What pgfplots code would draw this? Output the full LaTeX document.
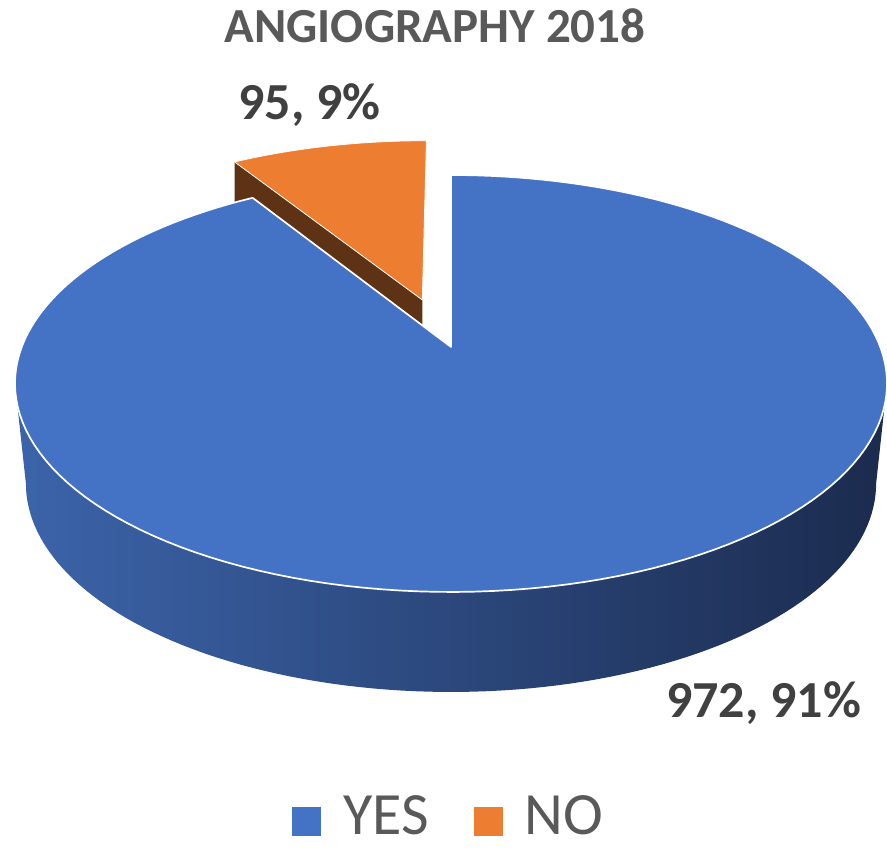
\documentclass[border=0pt]{standalone}
\usepackage{pgfplots}
\pgfplotsset{compat=1.18}
\usepackage{pgfplotstable}
\usepackage{fontspec}
\setmainfont{Carlito}
\definecolor{yesblue}{HTML}{4472C4}
\definecolor{noorange}{HTML}{ED7D31}
\definecolor{nobrown}{HTML}{5E3214}
\definecolor{sideL}{HTML}{3C64AA}
\definecolor{sideM}{HTML}{213762}
\definecolor{sideR}{HTML}{1B2B4E}
\definecolor{labelgray}{HTML}{404040}
\definecolor{titlegray}{HTML}{595959}

\pgfplotstableread{
label value
YES 972
NO 95
}\piedata

\begin{document}
\begin{tikzpicture}[
 declare function={
  PX(\t)=451+429.3*cos(\t)/(1+0.175*sin(\t));
  PY(\t)=505+202.1*sin(\t)/(1+0.175*sin(\t));
  BX(\t)=451+0.975*429.3*cos(\t)/(1+0.175*sin(\t));
  BY(\t)=405+202.1*sin(\t)/(1+0.175*sin(\t));
  QX(\u,\v)=451+429.3*\u/(1+0.175*\v);
  QY(\u,\v)=505+202.1*\v/(1+0.175*\v);
 }]
\pgfplotstablegetelem{0}{value}\of\piedata \let\vyes\pgfplotsretval
\pgfplotstablegetelem{1}{value}\of\piedata \let\vno\pgfplotsretval
\pgfmathsetmacro\fno{\vno/(\vyes+\vno)}
\pgfmathsetmacro\ano{360*\fno}
\pgfmathsetmacro\aend{90+\ano}
\pgfmathsetmacro\abis{90+\ano/2}
\pgfmathsetmacro\ex{0.2526*cos(\abis)}
\pgfmathsetmacro\ey{0.2526*sin(\abis)}
\pgfmathsetmacro\cx{cos(\aend)+\ex}
\pgfmathsetmacro\cy{sin(\aend)+\ey}
\useasboundingbox (0,0) rectangle (443.5pt,426pt);
\begin{axis}[at={(0,0)}, anchor=south west, scale only axis,
  width=443.5pt, height=426pt, xmin=0, xmax=887, ymin=0, ymax=852,
  hide axis, clip=false,
  legend columns=2, legend cell align=left,
  legend image code/.code={\path[draw=none,fill=none] (0pt,0pt) (25.5pt,0pt); \fill[#1] (0pt,-9.5pt) rectangle (14.5pt,5pt);},
  legend style={at={(axis cs:292,35)}, anchor=west, draw=none, fill=none,
    inner sep=0pt, font=\fontsize{30}{36}\selectfont, text=titlegray,
    nodes={inner xsep=0pt, inner ysep=1pt},
    /tikz/every even column/.append style={column sep=22.5pt}},
]
% NO slice (exploded): radial side face then top
\fill[nobrown] (axis cs:{QX(\ex,\ey)},{QY(\ex,\ey)})
  -- (axis cs:{QX(\cx,\cy)},{QY(\cx,\cy)})
  -- (axis cs:{QX(\cx,\cy)},{QY(\cx,\cy)-100})
  -- (axis cs:{QX(\ex,\ey)},{QY(\ex,\ey)-100}) -- cycle;
\filldraw[fill=noorange, draw=white, line width=0.4pt, line join=round]
  (axis cs:{QX(\ex,\ey)},{QY(\ex,\ey)})
  -- plot[domain=90:\aend, samples=40, variable=\t]
     (axis cs:{QX(cos(\t)+\ex,sin(\t)+\ey)},{QY(cos(\t)+\ex,sin(\t)+\ey)})
  -- cycle;
% YES side (shaded)
\shade[left color=sideL, middle color=sideM, right color=sideR]
  plot[domain=190.08:349.92, samples=100, variable=\t] (axis cs:{PX(\t)},{PY(\t)})
  -- plot[domain=349.92:190.08, samples=100, variable=\t] (axis cs:{BX(\t)},{BY(\t)})
  -- cycle;
% YES top
\filldraw[fill=yesblue, draw=white, line width=0.85pt, line join=round]
  (axis cs:451,505)
  -- plot[domain=\aend:450, samples=160, variable=\t] (axis cs:{PX(\t)},{PY(\t)})
  -- cycle;
\addlegendimage{fill=yesblue, draw=none}
\addlegendentry{YES}
\addlegendimage{fill=noorange, draw=none}
\addlegendentry{NO}
% texts
\node[anchor=base, font=\bfseries\fontsize{24.5}{28}\selectfont, text=titlegray] at (axis cs:435,809) {ANGIOGRAPHY 2018};
\node[anchor=base, font=\bfseries\fontsize{26}{30}\selectfont, text=labelgray] at (axis cs:309.5,732) {95, 9\%};
\node[anchor=base, font=\bfseries\fontsize{26}{30}\selectfont, text=labelgray] at (axis cs:763.5,135) {972, 91\%};
\end{axis}
\end{tikzpicture}
\end{document}
